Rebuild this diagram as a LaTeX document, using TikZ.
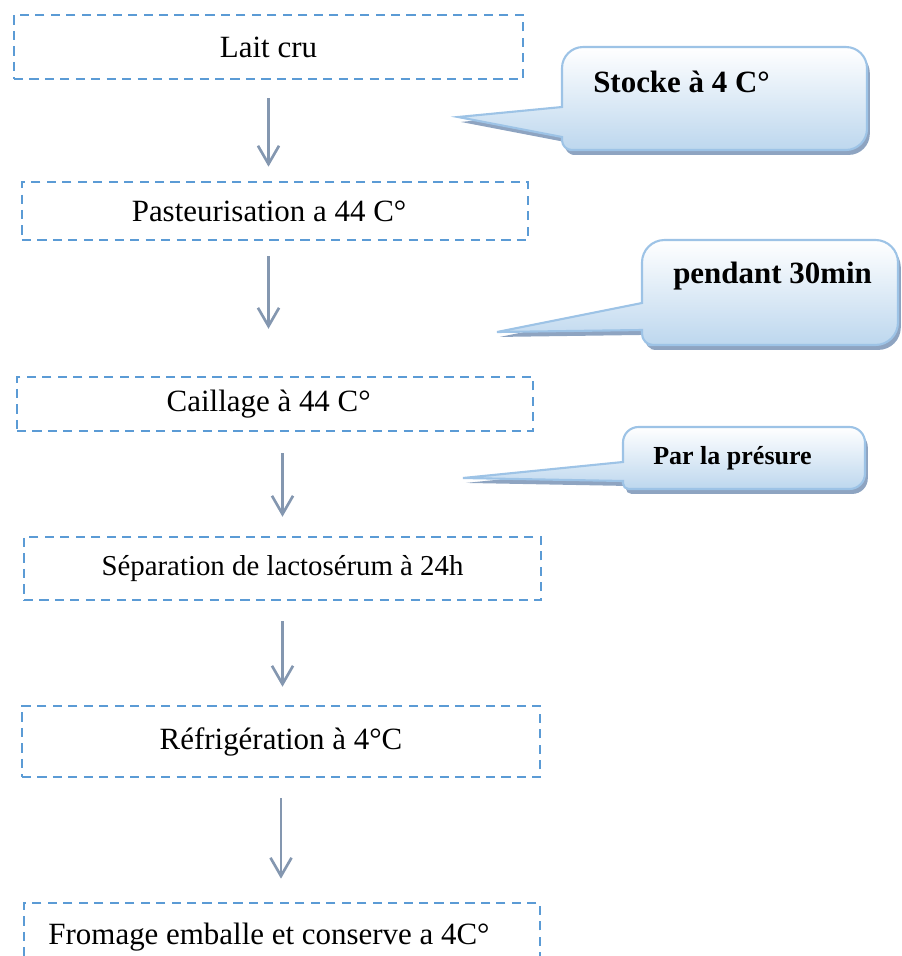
\documentclass[tikz,border=0pt]{standalone}
\usepackage{fontspec}
\setmainfont{Liberation Serif}
\usepackage{xcolor}
\usepackage{tikz}
\usetikzlibrary{arrows.meta}
\usetikzlibrary{shadows}
\definecolor{boxblue}{RGB}{91,155,213}
\definecolor{flowgray}{RGB}{132,151,176}
\definecolor{bubbleline}{RGB}{157,195,230}
\definecolor{bubblefill}{RGB}{189,215,238}
\definecolor{bubbleshadow}{RGB}{142,164,193}

\begin{document}
\begin{tikzpicture}
  [ x=0.025cm, y=-0.025cm,
    cell/.style={draw=boxblue, line width=1.8pt, dash pattern=on 6.5pt off 4.5pt,
      inner sep=0pt, font=\fontsize{22}{26}\selectfont},
    flow/.style={draw=flowgray, line width=1.9pt, -{Straight Barb[length=13pt,width=15pt]}},
    bubble/.style={draw=bubbleline, line width=1.5pt, top color=white, bottom color=bubblefill,
      drop shadow={shadow xshift=2pt, shadow yshift=-3.5pt, fill=bubbleshadow, opacity=1}},
    note/.style={anchor=base west, inner sep=0pt, font=\fontsize{22}{26}\selectfont\bfseries}
  ]
  \useasboundingbox (0,0) rectangle (902,956);

  \node (lait)    at (268.5,47)  [cell, minimum width=12.725cm, minimum height=1.6cm]   {Lait cru};
  \node (past)    at (275,211)   [cell, minimum width=12.65cm,  minimum height=1.45cm]  {Pasteurisation a 44 C°\hspace*{8.5pt}};
  \node (cail)    at (275,404)   [cell, minimum width=12.9cm,   minimum height=1.35cm]  {Caillage à 44 C°\hspace*{9pt}};
  \node (sep)     at (282.5,568.5) [cell, minimum width=12.925cm, minimum height=1.575cm,
                                  font=\fontsize{20.5}{24}\selectfont] {Séparation de lactosérum à 24h};
  \node (refr)    at (281,741.5) [cell, minimum width=12.95cm,  minimum height=1.775cm] {Réfrigération à 4°C};
  \node (fromage) at (282,937)   [cell, minimum width=12.9cm,   minimum height=1.7cm]   {Fromage emballe et conserve a 4C°\hspace*{18.5pt}};

  % bulles
  \draw [bubble] (458,117) -- (562,107) -- (562,80) [rounded corners=15pt] -- (562,47) -- (867,47)
    -- (867,150) -- (590,150) [rounded corners=7pt] -- (562,150) [sharp corners] -- (562,137) -- cycle;
  \draw [bubble] (497,332) -- (642,303) -- (642,280) [rounded corners=16pt] -- (642,240) -- (898,240)
    -- (898,345) -- (670,345) [rounded corners=8pt] -- (642,345) [sharp corners] -- (642,330) -- cycle;
  \draw [bubble] (463,478) -- (623,462) -- (623,450) [rounded corners=11pt] -- (623,427) -- (865,427)
    -- (865,489) -- (645,489) [rounded corners=4pt] -- (623,489) [sharp corners] -- (623,481) -- cycle;

  \node (stocke)  [note] at (593,92)  {Stocke à 4 C°};
  \node (pendant) [note] at (673,283) {pendant 30min};
  \node (presure) [note, font=\fontsize{18.5}{22}\selectfont\bfseries] at (653,464) {Par la présure};

  % fleches
  \draw [flow, shorten <=12.8pt, shorten >=10pt]   (lait.south) -- (lait.south |- past.north);
  \draw [flow, shorten <=10.7pt, shorten >=33.4pt] (lait.south |- past.south) -- (lait.south |- cail.north);
  \draw [flow, shorten <=15pt,   shorten >=13.5pt] (cail.south -| sep.north) -- (sep.north);
  \draw [flow, shorten <=14.2pt, shorten >=12.8pt] (sep.south) -- (sep.south |- refr.north);
  \draw [flow, shorten <=14.2pt, shorten >=16.4pt] (refr.south) -- (refr.south |- fromage.north);
\end{tikzpicture}
\end{document}
